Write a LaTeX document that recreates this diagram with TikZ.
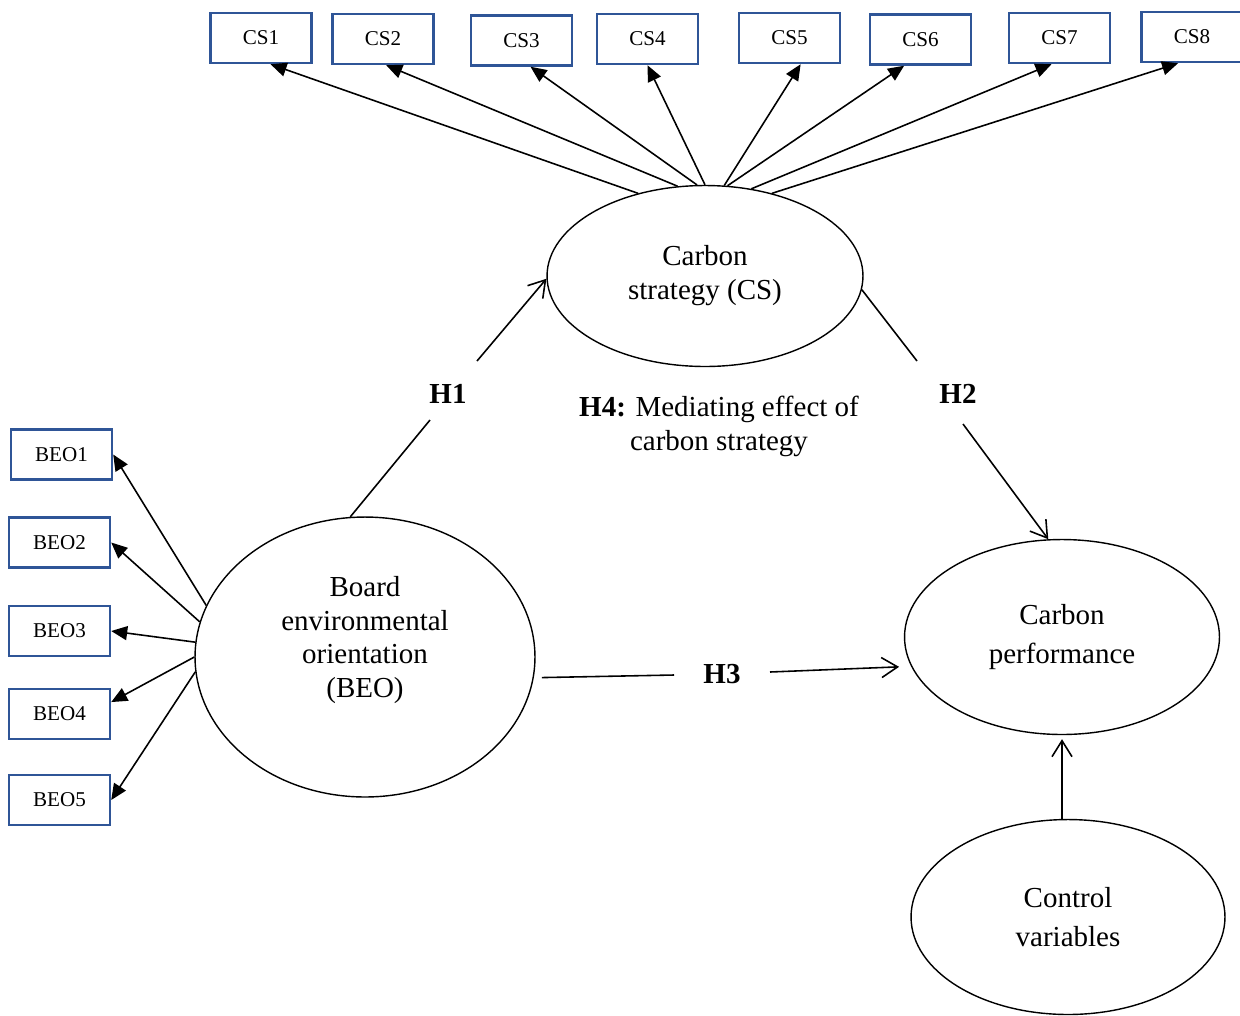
\documentclass[tikz,border=0pt]{standalone}
\usepackage{fontspec}
\setmainfont{Liberation Serif}
\usepackage{xcolor}
\usepackage{tikz}
\usetikzlibrary{arrows.meta,shapes.geometric}
\definecolor{boxblue}{HTML}{2F5597}

\begin{document}
\begin{tikzpicture}[x=0.02cm, y=-0.02cm,
		item/.style={draw=boxblue, line width=1.4pt, minimum width=2.02cm, minimum height=1cm, inner sep=0pt, font=\fontsize{12}{14}\selectfont},
		latent/.style={draw, ellipse, line width=0.8pt, inner sep=0pt, align=center, font=\fontsize{16.5}{19.3}\selectfont},
		txt/.style={align=center, font=\fontsize{16.5}{19.3}\selectfont},
		hyp/.style={font=\fontsize{16.5}{19.3}\selectfont\bfseries},
		ind/.style={line width=0.9pt, -{Triangle[length=3.2mm,width=2.8mm]}},
		link/.style={line width=0.9pt},
		effect/.style={line width=0.9pt, -{Straight Barb[length=3.2mm,width=4mm]}}]
		\useasboundingbox (0,0) rectangle (1240,1015);

		\node[latent, minimum width=6.32cm, minimum height=3.62cm] (cs) at (705,276) {Carbon\\strategy (CS)};
		\node[latent, minimum width=6.8cm, minimum height=5.6cm] (beo) at (365,657) {};
		\node[txt] (beotext) at (365,640) {Board\\environmental\\orientation\\(BEO)};
		\node[latent, minimum width=6.3cm, minimum height=3.9cm] (cp) at (1062,637) {Carbon\\[2.8pt]performance};
		\node[latent, minimum width=6.28cm, minimum height=3.9cm] (cv) at (1068,917) {Control\\[2.8pt]variables};

		\node[item] (cs1) at (261,38) {CS1};
		\node[item] (cs2) at (383,39) {CS2};
		\node[item] (cs3) at (521.5,40.5) {CS3};
		\node[item] (cs4) at (647.5,39) {CS4};
		\node[item] (cs5) at (789.5,38) {CS5};
		\node[item] (cs6) at (920.5,39.5) {CS6};
		\node[item] (cs7) at (1059.5,38) {CS7};
		\node[item] (cs8) at (1192,37) {CS8};

		\node[item] (beo1) at (61.5,454.5) {BEO1};
		\node[item] (beo2) at (59.5,542.5) {BEO2};
		\node[item] (beo3) at (59.5,631) {BEO3};
		\node[item] (beo4) at (59.5,714) {BEO4};
		\node[item] (beo5) at (59.5,800) {BEO5};

		\foreach \a/\t in {129/cs1.-70, 107/cs2.-83, 95/cs3.-71, 90/cs4.south, 78/cs5.-67, 76/cs6.-122, 62/cs7.-107, 51/cs8.-118} {
			\draw[ind] (cs.\a) -- (\t);
		}
		\foreach \a/\t in {162/beo1.east, 168/beo2.east, 175/beo3.east, 180/beo4.13, 185/beo5.east} {
			\draw[ind] (beo.\a) -- (\t);
		}

		\node[hyp] (h1) at (448,394) {H1};
		\node[hyp] (h2) at (958,394) {H2};
		\node[hyp] (h3) at (722,674) {H3};
		\node[txt] (h4) at (719,426) {\textbf{H4:} Mediating effect of\\carbon strategy};

		% ends of the lines on both sides of the labels
		\coordinate (h1lo) at (430,420);
		\coordinate (h1hi) at (477,361);
		\coordinate (h2hi) at (917,361);
		\coordinate (h2lo) at (963,424);
		\coordinate (h3l) at (674,675);
		\coordinate (h3r) at (770,672);

		\draw[link] (beo.96) -- (h1lo);
		\draw[effect] (h1hi) -- (cs.181);
		\draw[link] (cs.-5) -- (h2hi);
		\draw[effect] (h2lo) -- (cp.98);
		\draw[link, shorten <=0.16cm] (beo.-7) -- (h3l);
		\draw[effect, shorten >=0.24cm] (h3r) -- (cp.191);
		\draw[effect, shorten >=0.08cm] (cp.south |- cv.north) -- (cp.south);
	\end{tikzpicture}
\end{document}
